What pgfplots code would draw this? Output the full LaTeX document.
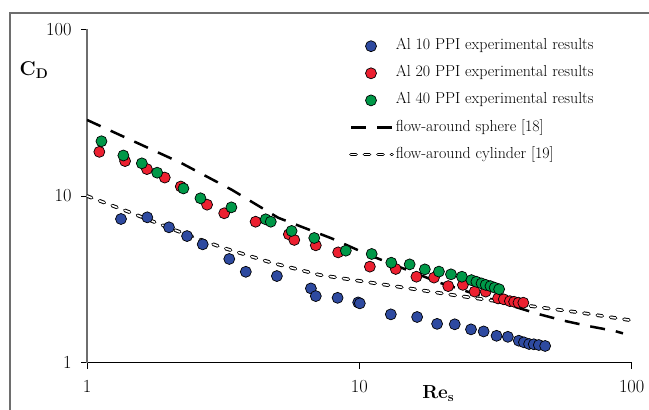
\documentclass[border=0pt]{standalone}
\usepackage{fontspec}
\usepackage{pgfplots}
\pgfplotsset{compat=1.18}
\definecolor{cblue}{RGB}{46,74,160}
\definecolor{cred}{RGB}{236,32,48}
\definecolor{cgreen}{RGB}{0,152,72}
\definecolor{framegray}{RGB}{110,110,110}
\pgfplotsset{
  markleg/.style={legend image code/.code={\draw[##1] plot coordinates {(20bp,0bp)};}},
  lineleg/.style={legend image code/.code={\draw[##1] (0bp,0bp) -- (41bp,0bp);}},
  sphere/.style={black, line width=2.5bp, dash pattern=on 15bp off 11bp},
  cylinder/.style={black, line width=1bp, double=white, double distance=1.6bp, line cap=round, dash pattern=on 5bp off 8.5bp},
}
\begin{document}
\begin{tikzpicture}
\useasboundingbox (-87bp,-47.3bp) rectangle (562bp,362.7bp);
\draw[framegray, line width=1.2bp] (-77bp,-60bp) -- (-77bp,349.7bp) -- (580bp,349.7bp);
\begin{axis}[
  at={(0,0)}, anchor=south west,
  scale only axis, width=544.7bp, height=333.4bp,
  xmode=log, ymode=log,
  xmin=1, xmax=100, ymin=1, ymax=100,
  axis x line*=bottom, axis y line*=left,
  x axis line style={black, line width=0.8bp},
  y axis line style={framegray, line width=1.6bp},
  tick align=outside, major tick length=6bp,
  every tick/.style={black, line width=0.8bp},
  xtick={1,10,100}, ytick={1,10,100},
  xticklabels={1,10,100}, yticklabels={1,10,100},
  xminorticks=false, yminorticks=false,
  /pgf/number format/assume math mode=true,
  tick label style={font=\fontsize{18.5}{18.5}\selectfont},
  xticklabel style={yshift=-8bp},
  yticklabel style={xshift=-6bp},
  xlabel={\bfseries Re\textsubscript{s}},
  ylabel={\bfseries C\textsubscript{D}},
  xlabel style={font=\fontsize{19}{19}\selectfont, at={(axis description cs:0.645,-0.092)}, anchor=center},
  ylabel style={font=\fontsize{20}{20}\selectfont, rotate=-90, at={(axis description cs:-0.0973,0.878)}, anchor=center},
  legend cell align=left,
  legend style={draw=none, fill=none, at={(axis description cs:0.481,0.9754)}, anchor=north west,
    font=\fontsize{16}{17}\selectfont, inner sep=0pt, row sep=10.1bp, column sep=1bp,
    nodes={inner sep=1bp, text height=11bp, text depth=4bp}},
]
\addplot[forget plot, sphere] coordinates {
 (1,28.6) (2.23,15.7) (3.40,10.9) (5.04,7.4) (7.91,5.57) (10.8,4.44) (19.7,3.02)
 (38.8,2.12) (45.9,1.95) (56,1.79) (69.2,1.66) (86.6,1.55) (92.9,1.50)};
\addplot[forget plot, cylinder] coordinates {
 (1,10.0) (1.418,8.05) (2.10,6.25) (3.12,4.92) (4.76,3.98) (7.16,3.36) (16.7,2.73)
 (20.9,2.58) (45.9,2.15) (64.4,2.0) (98.4,1.80)};
\addplot[markleg, only marks, mark=*, mark size=5.5bp, mark options={draw=black, line width=0.7bp, fill=cblue}] coordinates {
 (1.333,7.28) (1.665,7.45) (2.0,6.49) (2.33,5.75) (2.66,5.13) (3.33,4.19) (3.83,3.51)
 (4.98,3.31) (6.64,2.79) (6.92,2.51) (8.32,2.45) (9.9,2.30) (10.04,2.27) (13.05,1.95)
 (16.3,1.88) (19.3,1.71) (22.4,1.70) (25.7,1.585) (28.6,1.54) (31.9,1.45) (35.1,1.43)
 (38.5,1.355) (40.2,1.325) (42.0,1.295) (43.7,1.29) (45.6,1.277) (48.1,1.26)};
\addlegendentry{Al 10 PPI experimental results}
\addplot[markleg, only marks, mark=*, mark size=5.5bp, mark options={draw=black, line width=0.7bp, fill=cred}] coordinates {
 (1.11,18.4) (1.38,16.2) (1.66,14.5) (1.93,12.9) (2.21,11.4) (2.76,8.87) (3.19,7.88)
 (4.16,7.01) (5.51,5.89) (5.77,5.45) (6.92,5.06) (8.36,4.59) (10.93,3.77) (13.6,3.65)
 (16.2,3.28) (18.8,3.24) (21.2,2.88) (24.0,2.93) (26.5,2.67) (29.1,2.67) (32.3,2.43)
 (33.9,2.40) (35.7,2.34) (37.0,2.32) (38.4,2.29) (40.0,2.29)};
\addlegendentry{Al 20 PPI experimental results}
\addplot[markleg, only marks, mark=*, mark size=5.5bp, mark options={draw=black, line width=0.7bp, fill=cgreen}] coordinates {
 (1.13,21.3) (1.36,17.5) (1.59,15.7) (1.81,13.8) (2.26,11.1) (2.61,9.69) (3.39,8.55)
 (4.53,7.25) (4.73,7.01) (5.64,6.17) (6.83,5.60) (8.92,4.70) (11.1,4.49) (13.1,3.98)
 (15.3,3.89) (17.4,3.63) (19.6,3.52) (21.7,3.39) (23.8,3.28) (25.8,3.13) (26.9,3.06)
 (28.1,2.99) (29.1,2.93) (30.3,2.88) (31.4,2.82) (32.6,2.76)};
\addlegendentry{Al 40 PPI experimental results}
\addlegendimage{lineleg, sphere}
\addlegendentry{flow-around sphere [18]}
\addlegendimage{lineleg, cylinder}
\addlegendentry{flow-around cylinder [19]}
\end{axis}
\end{tikzpicture}
\end{document}
